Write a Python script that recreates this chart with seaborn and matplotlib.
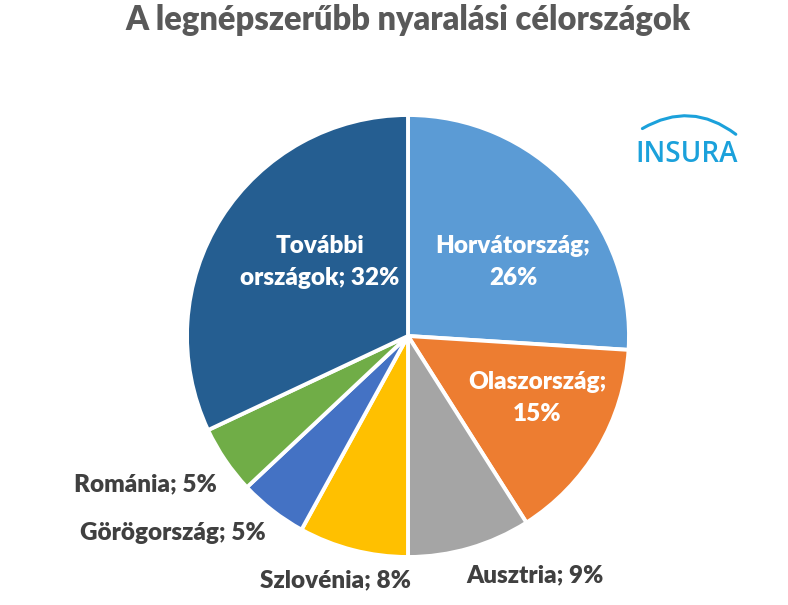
import numpy as np
import pandas as pd
import matplotlib.pyplot as plt
import matplotlib.patches as mpatches
import seaborn as sns

# *******************Data
countries = ["Horvátország", "Olaszország", "Ausztria", "Szlovénia",
             "Görögország", "Románia", "További\nországok"]
shares = [26, 15, 9, 8, 5, 5, 32]
colors = ["#5B9BD5", "#ED7D31", "#A5A5A5", "#FFC000",
          "#4472C4", "#70AD47", "#255E91"]

# label positions (pie data units) and whether label sits inside the slice
label_xy = [(0.475, 0.335), (0.584, -0.281), (0.575, -1.081), (-0.326, -1.104),
            (-1.063, -0.891), (-1.19, -0.67), (-0.398, 0.335)]
label_inside = [True, True, False, False, False, False, True]
label_text = ["Horvátország;\n26%", "Olaszország;\n15%", "Ausztria; 9%", "Szlovénia; 8%",
              "Görögország; 5%", "Románia; 5%", "További\nországok; 32%"]

sns.set_theme(style="white")
plt.rcParams["font.family"] = ["Lato", "DejaVu Sans"]
palette = sns.color_palette(colors)

fig = plt.figure(figsize=(7.88, 6.05), dpi=100)
ax = fig.add_axes([(408 - 221) / 788, (605 - 336 - 221) / 605, 442 / 788, 442 / 605])

ax.pie(shares, colors=palette, startangle=90, counterclock=False, radius=1,
       wedgeprops=dict(edgecolor="white", linewidth=2.8))
ax.set_xlim(-1, 1)
ax.set_ylim(-1, 1)
ax.set_aspect("equal")
ax.axis("off")

for (x, y), txt, inside in zip(label_xy, label_text, label_inside):
    ax.text(x, y, txt, ha="center", va="center", fontsize=17.5, fontweight="heavy",
            color="white" if inside else "#404040", linespacing=1.55, clip_on=False)

fig.text(408 / 788, 1 - 20 / 605, "A legnépszerűbb nyaralási célországok",
         ha="center", va="center", fontsize=23.5, fontweight="heavy", color="#595959")

# logo
fig.text(687 / 788, 1 - 154 / 605, "INSURA", ha="center", va="center",
         fontsize=20, fontweight="semibold", color="#1BA1DB",
         family=["Open Sans", "DejaVu Sans"])
swoosh = mpatches.FancyArrowPatch((640 / 788, 1 - 130 / 605), (738 / 788, 1 - 136 / 605),
                                  connectionstyle="arc3,rad=-0.35", arrowstyle="-",
                                  color="#1BA1DB", lw=2.2, transform=fig.transFigure)
fig.patches.append(swoosh)

plt.savefig("out.png", dpi=100)
